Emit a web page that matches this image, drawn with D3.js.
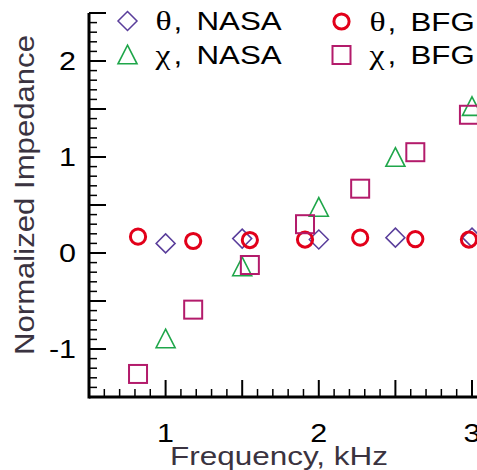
<!DOCTYPE html>
<html><head><meta charset="utf-8">
<script src="https://cdn.jsdelivr.net/npm/d3@7"></script>
<style>html,body{margin:0;padding:0;background:#fff;overflow:hidden}</style>
</head><body>
<script>
// ---- data ----
const freqNASA = [1.0, 1.5, 2.0, 2.5, 3.0];
const thetaNASA = [0.10, 0.15, 0.14, 0.16, 0.16];
const chiNASA = [-0.89, -0.14, 0.48, 1.00, 1.53];
const freqBFG = [0.82, 1.18, 1.55, 1.91, 2.27, 2.63, 2.98];
const thetaBFG = [0.17, 0.125, 0.135, 0.14, 0.16, 0.145, 0.14];
const chiBFG = [-1.26, -0.59, -0.125, 0.30, 0.67, 1.05, 1.44];
const xTicks = [1, 2, 3];
const yTicks = [-1, 0, 1, 2];
const seriesNames = ["θ", "χ", "θ", "χ"];
const seriesSources = ["NASA", "NASA", "BFG", "BFG"];

const W = 477, H = 470;
const svg = d3.select("body").append("svg").attr("width", W).attr("height", H);
const x = d3.scaleLinear().domain([0.5, 3.5]).range([89, 89 + 3 * 153.2]);
const y = d3.scaleLinear().domain([-1.5, 2.5]).range([397, 13]);

const cDia = "#5a3e9b", cTri = "#1fa64a", cCir = "#e2001a", cSq = "#b31b6b";
const sans = "'Liberation Sans', Arial, sans-serif";
const serif = "'Liberation Serif', 'Times New Roman', serif";

// axes with minor ticks (inward)
const gx = svg.append("g");
const xMinor = d3.range(6, 35).map(v => v / 10);
xMinor.forEach(v => {
  const major = Math.abs(v * 2 - Math.round(v * 2)) < 1e-6;
  gx.append("line").attr("x1", x(v)).attr("x2", x(v))
    .attr("y1", y(-1.5)).attr("y2", y(-1.5) - (major ? 17 : 8))
    .attr("stroke", "#000").attr("stroke-width", major ? 2 : 1.5);
});
const gy = svg.append("g");
const yMinor = d3.range(-14, 26).map(v => v / 10);
yMinor.forEach(v => {
  const major = Math.abs(v * 2 - Math.round(v * 2)) < 1e-6;
  gy.append("line").attr("y1", y(v)).attr("y2", y(v))
    .attr("x1", x(0.5)).attr("x2", x(0.5) + (major ? 17 : 8))
    .attr("stroke", "#000").attr("stroke-width", major ? 2 : 1.5);
});
// axis lines
svg.append("line").attr("x1", x(0.5)).attr("x2", x(3.5)).attr("y1", y(-1.5)).attr("y2", y(-1.5))
  .attr("stroke", "#000").attr("stroke-width", 3);
svg.append("line").attr("x1", x(0.5)).attr("x2", x(0.5)).attr("y1", y(-1.5) + 1.5).attr("y2", y(2.5))
  .attr("stroke", "#000").attr("stroke-width", 3);

// tick labels
yTicks.forEach(v => {
  svg.append("text").attr("transform", `translate(76,${y(v) + 9}) scale(1.22,1)`)
    .attr("text-anchor", "end").attr("font-family", sans).attr("font-size", 25)
    .attr("fill", "#000").text(v);
});
xTicks.forEach(v => {
  svg.append("text").attr("transform", `translate(${x(v)},${442}) scale(1.22,1)`)
    .attr("text-anchor", "middle").attr("font-family", sans).attr("font-size", 25)
    .attr("fill", "#000").text(v);
});

// axis titles
svg.append("text").attr("x", 170).attr("y", 465).attr("font-family", sans).attr("font-size", 26)
  .attr("fill", "#3a3340").attr("textLength", 218).attr("lengthAdjust", "spacingAndGlyphs")
  .text("Frequency, kHz");
svg.append("text").attr("transform", "translate(34,355) rotate(-90)").attr("font-family", sans)
  .attr("font-size", 27).attr("fill", "#3a3340").attr("textLength", 320)
  .attr("lengthAdjust", "spacingAndGlyphs").text("Normalized Impedance");

// marker shapes
const diamond = (g, cx, cy) => g.append("path")
  .attr("d", `M${cx},${cy - 9.5}L${cx + 9.5},${cy}L${cx},${cy + 9.5}L${cx - 9.5},${cy}Z`)
  .attr("fill", "none").attr("stroke", cDia).attr("stroke-width", 1.5);
const triangle = (g, cx, cy) => g.append("path")
  .attr("d", `M${cx},${cy - 9.3}L${cx + 9.5},${cy + 9.3}L${cx - 9.5},${cy + 9.3}Z`)
  .attr("fill", "none").attr("stroke", cTri).attr("stroke-width", 1.6);
const circle = (g, cx, cy) => g.append("circle").attr("cx", cx).attr("cy", cy).attr("r", 7.6)
  .attr("fill", "none").attr("stroke", cCir).attr("stroke-width", 3);
const square = (g, cx, cy) => g.append("rect").attr("x", cx - 9).attr("y", cy - 9)
  .attr("width", 18).attr("height", 18)
  .attr("fill", "none").attr("stroke", cSq).attr("stroke-width", 2);

const plot = svg.append("g");
freqNASA.forEach((f, i) => diamond(plot, x(f), y(thetaNASA[i])));
freqNASA.forEach((f, i) => triangle(plot, x(f), y(chiNASA[i])));
freqBFG.forEach((f, i) => circle(plot, x(f), y(thetaBFG[i])));
freqBFG.forEach((f, i) => square(plot, x(f), y(chiBFG[i])));

// legend
const leg = svg.append("g");
const legPos = [[127.5, 21], [127.5, 54.5], [341.5, 21.5], [341.5, 55]];
const legFns = [diamond, triangle, circle, square];
legPos.forEach((p, i) => {
  legFns[i](leg, p[0], p[1]);
  const base = p[1] + 9;
  leg.append("text").attr("transform", `translate(${p[0] + 28},${base}) scale(1.25,1)`)
    .attr("font-family", serif).attr("font-size", 27).attr("fill", "#000").text(seriesNames[i]);
  leg.append("text").attr("transform", `translate(${p[0] + 46},${base}) scale(1.25,1)`)
    .attr("font-family", sans).attr("font-size", 25).attr("fill", "#000").text(",");
  leg.append("text").attr("transform", `translate(${p[0] + 69},${base}) scale(1.25,1)`)
    .attr("font-family", sans).attr("font-size", 25).attr("fill", "#000").text(seriesSources[i]);
});
</script>
</body></html>
